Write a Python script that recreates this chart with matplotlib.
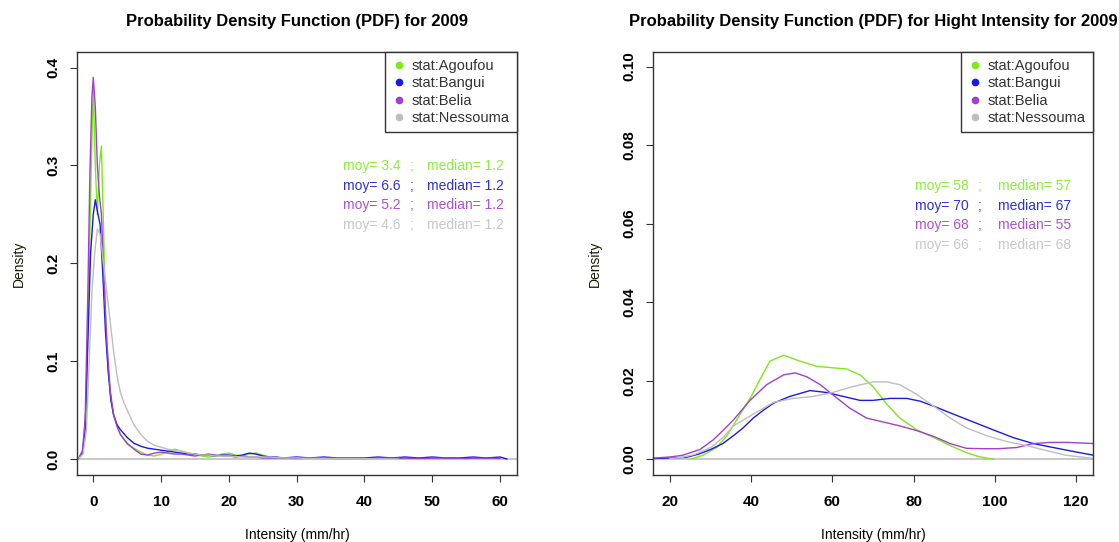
import matplotlib
matplotlib.use("Agg")
from matplotlib import pyplot as plt
from matplotlib.lines import Line2D

plt.rcParams['font.family'] = ['Liberation Sans', 'DejaVu Sans']

# ---- data ----
stations = ['stat:Agoufou', 'stat:Bangui', 'stat:Belia', 'stat:Nessouma']
line_colors = ['#7FE81A', '#1A1AE6', '#A040D0', '#BEBEBE']
text_colors = ['#8CF03C', '#3030E0', '#B050D8', '#C8C8C8']

# left panel: all intensities 2009
all_x_agoufou = [-2.2, -1.5, -1.0, -0.6, -0.3, 0.0, 0.3, 0.6, 0.9, 1.2, 1.5, 1.8, 2.2, 2.6, 3.0,
                 3.5, 4.0, 4.5, 5.0, 6.0, 7.0, 8.0, 9.0, 10, 11, 12, 13, 14, 15, 16, 17, 18, 19,
                 20, 21, 22, 23, 24, 25, 26, 27, 28, 30, 32, 35, 40, 44, 45, 46]
all_y_agoufou = [0.0, 0.01, 0.06, 0.19, 0.30, 0.38, 0.30, 0.25, 0.30, 0.32, 0.24, 0.15, 0.09, 0.06, 0.045,
                 0.035, 0.025, 0.02, 0.015, 0.011, 0.007, 0.004, 0.003, 0.005, 0.007, 0.010, 0.008, 0.006, 0.005, 0.003, 0.002, 0.003, 0.005,
                 0.006, 0.004, 0.003, 0.005, 0.006, 0.004, 0.002, 0.001, 0.0005, 0.0003, 0.0005, 0.0003, 0.0002, 0.0012, 0.0003, 0.0]

all_x_bangui = [-2.2, -1.6, -1.2, -0.8, -0.4, 0.0, 0.3, 0.7, 1.0, 1.4, 1.8, 2.2, 2.6, 3.0, 3.5, 4.0,
                5.0, 6.0, 7.0, 8.0, 9.0, 10, 11, 12, 13, 14, 15, 16, 17, 18, 19, 20, 21, 22, 23, 24,
                25, 26, 27, 28, 30, 32, 34, 36, 38, 40, 42, 44, 46, 48, 50, 52, 54, 56, 58, 60, 61]
all_y_bangui = [0.0, 0.006, 0.03, 0.12, 0.21, 0.25, 0.265, 0.25, 0.24, 0.19, 0.13, 0.09, 0.06, 0.045, 0.035, 0.03,
                0.022, 0.016, 0.013, 0.011, 0.010, 0.009, 0.008, 0.007, 0.006, 0.005, 0.005, 0.004, 0.004, 0.003, 0.004, 0.004, 0.003, 0.004, 0.006, 0.005,
                0.003, 0.002, 0.002, 0.001, 0.002, 0.001, 0.002, 0.001, 0.001, 0.001, 0.002, 0.001, 0.002, 0.001, 0.002, 0.001, 0.001, 0.002, 0.001, 0.002, 0.0]

all_x_belia = [-2.2, -1.6, -1.2, -0.8, -0.5, -0.2, 0.0, 0.3, 0.6, 0.9, 1.2, 1.6, 2.0, 2.5, 3.0, 3.5,
               4.0, 5.0, 6.0, 7.0, 8.0, 9.0, 10, 11, 12, 13, 14, 15, 16, 17, 18, 19, 20, 21, 22, 23,
               24, 25, 26, 28, 30, 33, 36, 40, 44, 48, 52, 55, 58, 60]
all_y_belia = [0.0, 0.008, 0.04, 0.17, 0.29, 0.37, 0.39, 0.36, 0.30, 0.27, 0.25, 0.18, 0.12, 0.07, 0.045, 0.033,
               0.025, 0.016, 0.010, 0.005, 0.004, 0.006, 0.007, 0.006, 0.005, 0.005, 0.004, 0.003, 0.004, 0.005, 0.004, 0.003, 0.003, 0.002, 0.003, 0.002,
               0.002, 0.001, 0.001, 0.001, 0.0005, 0.001, 0.0005, 0.0005, 0.001, 0.0005, 0.001, 0.0005, 0.001, 0.0005]

all_x_nessouma = [-2.2, -1.5, -1.0, -0.6, -0.2, 0.2, 0.6, 1.0, 1.5, 2.0, 2.5, 3.0, 3.5, 4.0, 4.5,
                  5.0, 6.0, 7.0, 8.0, 9.0, 10, 11, 12, 13, 14, 15, 16, 17, 18, 19, 20, 22, 24, 26,
                  28, 30, 32, 35, 40, 45]
all_y_nessouma = [0.0, 0.005, 0.03, 0.10, 0.17, 0.21, 0.235, 0.23, 0.20, 0.17, 0.14, 0.11, 0.085, 0.068, 0.058,
                  0.05, 0.035, 0.025, 0.018, 0.014, 0.012, 0.010, 0.009, 0.008, 0.006, 0.005, 0.004, 0.004, 0.003, 0.003, 0.003, 0.002, 0.002, 0.002,
                  0.001, 0.001, 0.0005, 0.0005, 0.0003, 0.0]

all_moy = ['3.4', '6.6', '5.2', '4.6']
all_median = ['1.2', '1.2', '1.2', '1.2']

# right panel: high intensities 2009
hi_x_agoufou = [25, 28, 31.5, 34, 37, 40, 42, 44.6, 48, 52, 56, 60, 63.5, 66.8, 70, 73.4, 76.6, 80.8, 85, 89, 93, 96, 99.6]
hi_y_agoufou = [0.0, 0.001, 0.003, 0.006, 0.011, 0.016, 0.020, 0.025, 0.0265, 0.025, 0.0237, 0.0233, 0.023, 0.0215, 0.0185, 0.014, 0.0105, 0.0075, 0.0055, 0.0035, 0.0017, 0.0007, 0.0]

hi_x_bangui = [16, 19, 24, 27, 30, 33, 35.6, 38, 40.5, 43, 45.5, 49.5, 54.5, 58.6, 62.7, 66.8, 70, 74.2, 78.3, 81.6, 85,
               89.8, 94.7, 99.6, 104.6, 109.5, 114.4, 119.3, 124.5]
hi_y_bangui = [0.0002, 0.0003, 0.0005, 0.0013, 0.0025, 0.004, 0.006, 0.008, 0.0105, 0.0125, 0.0143, 0.016, 0.0175, 0.017, 0.016, 0.015, 0.015, 0.0155, 0.0155, 0.0148, 0.0135,
               0.0115, 0.0095, 0.0075, 0.0055, 0.004, 0.003, 0.002, 0.001]

hi_x_belia = [16, 20, 23, 27.4, 30.7, 33, 35.6, 39.7, 43.8, 48, 50.8, 53.7, 57, 60, 64.3, 68.4, 72.5, 76.6, 80.8, 85, 89,
              93, 97, 101, 105.4, 109.5, 113.6, 118, 124.5]
hi_y_belia = [0.0003, 0.0006, 0.001, 0.0025, 0.005, 0.0073, 0.010, 0.015, 0.019, 0.0215, 0.022, 0.021, 0.019, 0.0165, 0.013, 0.0105, 0.0095, 0.0085, 0.0073, 0.0058, 0.004,
              0.0028, 0.0027, 0.0027, 0.003, 0.004, 0.0043, 0.0043, 0.004]

hi_x_nessouma = [20, 23, 26, 30, 33, 35.6, 40.5, 45.5, 50.4, 55.3, 60, 65, 70, 73.4, 76.6, 80.8, 85, 89, 93, 98,
                 103, 107.8, 112.8, 117.7, 124.5]
hi_y_nessouma = [0.0002, 0.0005, 0.0012, 0.003, 0.0055, 0.0085, 0.0115, 0.0145, 0.0155, 0.016, 0.017, 0.0185, 0.0197, 0.0197, 0.019, 0.0165, 0.0135, 0.0105, 0.008, 0.006,
                 0.0045, 0.0035, 0.0022, 0.001, 0.0002]

hi_moy = ['58', '70', '68', '66']
hi_median = ['57', '67', '55', '68']

left_xticks = [0, 10, 20, 30, 40, 50, 60]
left_yticks = [0.0, 0.1, 0.2, 0.3, 0.4]
right_xticks = [20, 40, 60, 80, 100, 120]
right_yticks = [0.00, 0.02, 0.04, 0.06, 0.08, 0.10]


def draw_panel(ax, curves, xlim, ylim, xticks, yticks, yfmt, title, moy, median, text_x, text_y0):
    ax.axhline(0, color='#C4C4C4', lw=1.3, zorder=1)
    for (xs, ys), c in zip(curves, line_colors):
        ax.plot(xs, ys, color=c, lw=1.0, zorder=2)
    ax.set_xlim(*xlim)
    ax.set_ylim(*ylim)
    ax.set_xticks(xticks)
    ax.set_xticklabels([str(t) for t in xticks], fontweight='bold', fontsize=11)
    ax.set_yticks(yticks)
    ax.set_yticklabels([yfmt % t for t in yticks], fontweight='bold', fontsize=11,
                       rotation=90, va='center')
    ax.tick_params(axis='x', length=5, pad=9.5, color='#333333')
    ax.tick_params(axis='y', length=5, pad=7, color='#333333')
    for s in ax.spines.values():
        s.set_color('#333333')
        s.set_linewidth(1.0)
    ax.set_title(title, fontsize=12, fontweight='bold', pad=19)
    ax.set_xlabel('Intensity (mm/hr)', fontsize=10, va='top')
    ax.xaxis.set_label_coords(0.5, -0.125)
    ax.set_ylabel('Density', fontsize=10, color='#1a1a00')
    ax.yaxis.set_label_coords(-0.117, 0.5)

    handles = [Line2D([], [], ls='none', marker='o', ms=4.5, color=c) for c in line_colors]
    leg = ax.legend(handles, stations, loc='upper right', borderaxespad=0, fancybox=False,
                    fontsize=10.5, handlelength=0.85, handletextpad=0.45, labelspacing=0.22,
                    borderpad=0.5, framealpha=1)
    leg.get_frame().set_edgecolor('#333333')
    leg.get_frame().set_linewidth(1.0)
    for t in leg.get_texts():
        t.set_color('#333333')

    for i, c in enumerate(text_colors):
        y = text_y0 - i * 0.0465
        ax.text(text_x[0], y, 'moy= ' + moy[i], color=c, fontsize=10, transform=ax.transAxes, va='baseline')
        ax.text(text_x[1], y, ';', color=c, fontsize=10, transform=ax.transAxes, va='baseline', ha='center')
        ax.text(text_x[2], y, 'median= ' + median[i], color=c, fontsize=10, transform=ax.transAxes, va='baseline')


fig = plt.figure(figsize=(11.19, 5.42), dpi=100)
ax1 = fig.add_axes([77 / 1119, 67 / 542, 440 / 1119, 423 / 542])
ax2 = fig.add_axes([653 / 1119, 67 / 542, 440 / 1119, 423 / 542])

draw_panel(ax1,
           [(all_x_agoufou, all_y_agoufou), (all_x_bangui, all_y_bangui),
            (all_x_belia, all_y_belia), (all_x_nessouma, all_y_nessouma)],
           (-2.4, 62.5), (-0.0164, 0.416), left_xticks, left_yticks, '%.1f',
           'Probability Density Function (PDF) for 2009', all_moy, all_median,
           (0.605, 0.761, 0.795), 0.721)

draw_panel(ax2,
           [(hi_x_agoufou, hi_y_agoufou), (hi_x_bangui, hi_y_bangui),
            (hi_x_belia, hi_y_belia), (hi_x_nessouma, hi_y_nessouma)],
           (15.8, 124.2), (-0.004, 0.1037), right_xticks, right_yticks, '%.2f',
           'Probability Density Function (PDF) for Hight Intensity for 2009', hi_moy, hi_median,
           (0.595, 0.743, 0.784), 0.674)

fig.savefig('out.png', dpi=100)
